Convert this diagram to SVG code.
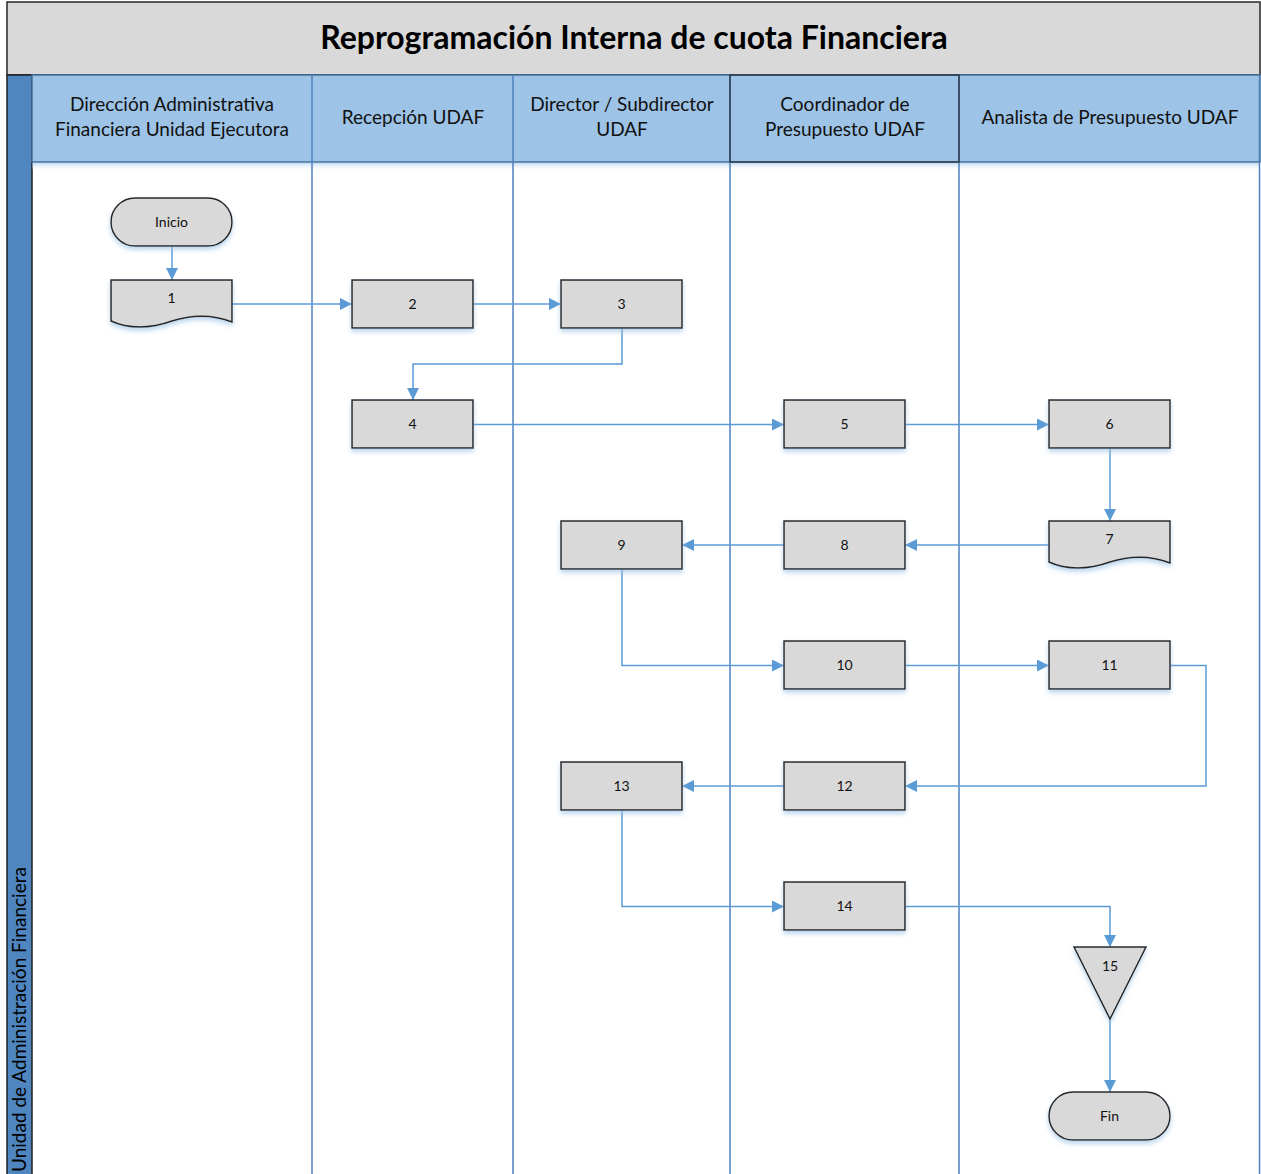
<svg xmlns="http://www.w3.org/2000/svg" width="1261" height="1174" viewBox="0 0 1261 1174">
  <defs>
    <style>
      .title { font-family: Lato, "Liberation Sans", sans-serif; font-weight: bold; font-size: 32px; fill: #000; }
      .lane { font-family: Lato, "Liberation Sans", sans-serif; font-size: 19px; fill: #111; }
      .pool { font-family: Lato, "Liberation Sans", sans-serif; font-size: 19px; fill: #000; }
      .lbl { font-family: Lato, "Liberation Sans", sans-serif; font-size: 14px; fill: #111; }
      .shape { fill: #d9d9d9; stroke: #262626; stroke-width: 1.5; filter: url(#glow); }
      .divider { stroke: #4f81bd; stroke-width: 1.5; fill: none; }
      .flow { stroke: #5b9bd5; stroke-width: 1.5; fill: none; marker-end: url(#arrow); }
    </style>
    <marker id="arrow" markerUnits="userSpaceOnUse" markerWidth="12" markerHeight="12" viewBox="0 0 12 12" refX="12" refY="6" orient="auto">
      <path d="M0,0 L12,6 L0,12 Z" fill="#5b9bd5"/>
    </marker>
    <filter id="glow" x="-20%" y="-20%" width="140%" height="160%">
      <feGaussianBlur in="SourceAlpha" stdDeviation="2.5" result="b"/>
      <feOffset dy="3" result="o"/>
      <feFlood flood-color="#9dc3e6" flood-opacity="0.7"/>
      <feComposite in2="o" operator="in"/>
      <feMerge><feMergeNode/><feMergeNode in="SourceGraphic"/></feMerge>
    </filter>
    <linearGradient id="hdrShade" x1="0" y1="0" x2="0" y2="1">
      <stop offset="0" stop-color="#9dc3e6" stop-opacity="0.6"/>
      <stop offset="1" stop-color="#ffffff" stop-opacity="0"/>
    </linearGradient>
  </defs>

  <rect x="0" y="0" width="1261" height="1174" fill="#ffffff"/>

  <!-- Title bar -->
  <g id="title">
    <rect x="7" y="2" width="1253" height="73" fill="#d9d9d9" stroke="#262626" stroke-width="1.5"/>
    <text class="title" x="634" y="49" text-anchor="middle">Reprogramación Interna de cuota Financiera</text>
  </g>

  <!-- Pool band -->
  <g id="pool">
    <rect x="7" y="75" width="25" height="1100" fill="#4f86c0" stroke="#1f1f1f" stroke-width="1.5"/>
    <text class="pool" transform="translate(26,1172) rotate(-90)">Unidad de Administración Financiera</text>
  </g>

  <!-- Lane headers and dividers -->
  <g id="lanes">
    <rect x="32" y="75" width="1228" height="87" fill="#9dc3e6" stroke="#41719c" stroke-width="1.5"/>
    <rect x="32" y="163" width="1228" height="8" fill="url(#hdrShade)"/>
    <line class="divider" x1="312" y1="75" x2="312" y2="1174"/>
    <line class="divider" x1="513" y1="75" x2="513" y2="1174"/>
    <line class="divider" x1="730" y1="75" x2="730" y2="1174"/>
    <line class="divider" x1="959" y1="75" x2="959" y2="1174"/>
    <line class="divider" x1="1259.5" y1="75" x2="1259.5" y2="1174"/>
    <rect x="730" y="75" width="229" height="87" fill="none" stroke="#2f3b4a" stroke-width="1.5"/>
    <text class="lane" x="172" y="111" text-anchor="middle">Dirección Administrativa</text>
    <text class="lane" x="172" y="136" text-anchor="middle">Financiera Unidad Ejecutora</text>
    <text class="lane" x="413" y="124" text-anchor="middle">Recepción UDAF</text>
    <text class="lane" x="622" y="111" text-anchor="middle">Director / Subdirector</text>
    <text class="lane" x="622" y="136" text-anchor="middle">UDAF</text>
    <text class="lane" x="845" y="111" text-anchor="middle">Coordinador de</text>
    <text class="lane" x="845" y="136" text-anchor="middle">Presupuesto UDAF</text>
    <text class="lane" x="1110" y="124" text-anchor="middle">Analista de Presupuesto UDAF</text>
  </g>

  <!-- Connectors -->
  <g id="connectors">
    <path class="flow" d="M172,246 V280"/>
    <path class="flow" d="M232,304 H352"/>
    <path class="flow" d="M473,304 H561"/>
    <path class="flow" d="M622,328 V364 H413 V400"/>
    <path class="flow" d="M473,424.5 H784"/>
    <path class="flow" d="M905,424.5 H1049"/>
    <path class="flow" d="M1110,448 V521"/>
    <path class="flow" d="M1049,545 H905"/>
    <path class="flow" d="M784,545 H682"/>
    <path class="flow" d="M622,569 V665.5 H784"/>
    <path class="flow" d="M905,665.5 H1049"/>
    <path class="flow" d="M1170,665.5 H1206 V786 H905"/>
    <path class="flow" d="M784,786 H682"/>
    <path class="flow" d="M622,810 V906.5 H784"/>
    <path class="flow" d="M905,906.5 H1110 V947"/>
    <path class="flow" d="M1110,1019 V1092"/>
  </g>

  <!-- Nodes -->
  <g id="n-inicio">
    <rect class="shape" x="111" y="198" width="121" height="48" rx="24" ry="24"/>
    <text class="lbl" x="171.5" y="227" text-anchor="middle">Inicio</text>
  </g>
  <g id="n1">
    <path class="shape" d="M111,280 H232 V322 C214,315 194,314 172,321 C150,329 128,329 111,321 Z"/>
    <text class="lbl" x="171.5" y="303" text-anchor="middle">1</text>
  </g>
  <g id="n2">
    <rect class="shape" x="352" y="280" width="121" height="48"/>
    <text class="lbl" x="412.5" y="309" text-anchor="middle">2</text>
  </g>
  <g id="n3">
    <rect class="shape" x="561" y="280" width="121" height="48"/>
    <text class="lbl" x="621.5" y="309" text-anchor="middle">3</text>
  </g>
  <g id="n4">
    <rect class="shape" x="352" y="400" width="121" height="48"/>
    <text class="lbl" x="412.5" y="429" text-anchor="middle">4</text>
  </g>
  <g id="n5">
    <rect class="shape" x="784" y="400" width="121" height="48"/>
    <text class="lbl" x="844.5" y="429" text-anchor="middle">5</text>
  </g>
  <g id="n6">
    <rect class="shape" x="1049" y="400" width="121" height="48"/>
    <text class="lbl" x="1109.5" y="429" text-anchor="middle">6</text>
  </g>
  <g id="n7">
    <path class="shape" d="M1049,521 H1170 V563 C1152,556 1132,555 1110,562 C1088,570 1066,570 1049,562 Z"/>
    <text class="lbl" x="1109.5" y="544" text-anchor="middle">7</text>
  </g>
  <g id="n8">
    <rect class="shape" x="784" y="521" width="121" height="48"/>
    <text class="lbl" x="844.5" y="550" text-anchor="middle">8</text>
  </g>
  <g id="n9">
    <rect class="shape" x="561" y="521" width="121" height="48"/>
    <text class="lbl" x="621.5" y="550" text-anchor="middle">9</text>
  </g>
  <g id="n10">
    <rect class="shape" x="784" y="641" width="121" height="48"/>
    <text class="lbl" x="844.5" y="670" text-anchor="middle">10</text>
  </g>
  <g id="n11">
    <rect class="shape" x="1049" y="641" width="121" height="48"/>
    <text class="lbl" x="1109.5" y="670" text-anchor="middle">11</text>
  </g>
  <g id="n12">
    <rect class="shape" x="784" y="762" width="121" height="48"/>
    <text class="lbl" x="844.5" y="791" text-anchor="middle">12</text>
  </g>
  <g id="n13">
    <rect class="shape" x="561" y="762" width="121" height="48"/>
    <text class="lbl" x="621.5" y="791" text-anchor="middle">13</text>
  </g>
  <g id="n14">
    <rect class="shape" x="784" y="882" width="121" height="48"/>
    <text class="lbl" x="844.5" y="911" text-anchor="middle">14</text>
  </g>
  <g id="n15">
    <path class="shape" d="M1074,947 H1146 L1110,1019 Z"/>
    <text class="lbl" x="1110" y="971" text-anchor="middle">15</text>
  </g>
  <g id="n-fin">
    <rect class="shape" x="1049" y="1092" width="121" height="48" rx="24" ry="24"/>
    <text class="lbl" x="1109.5" y="1121" text-anchor="middle">Fin</text>
  </g>
</svg>
